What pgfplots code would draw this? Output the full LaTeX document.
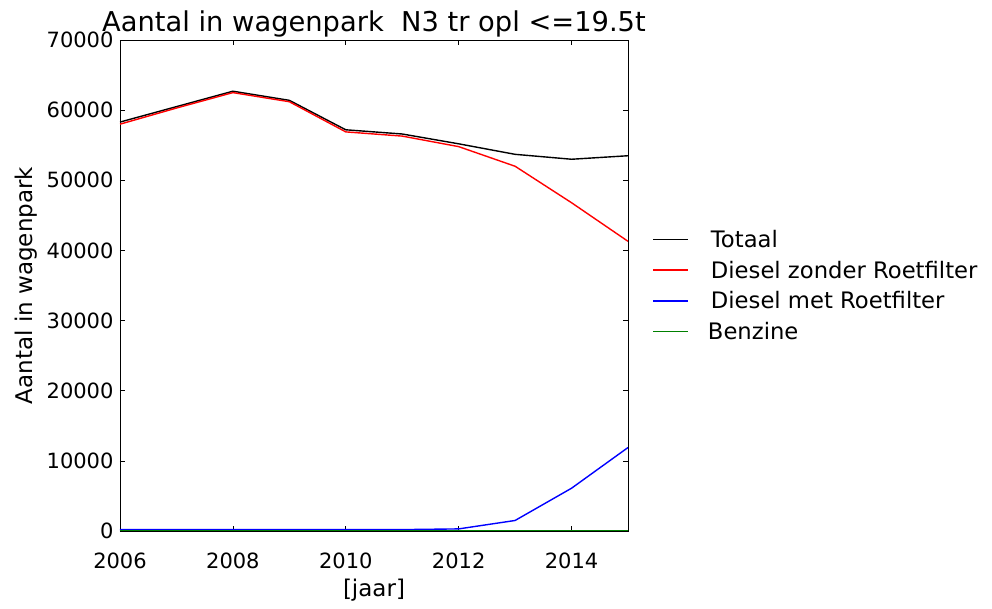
\documentclass[border=0pt]{standalone}
\usepackage{pgfplots}
\pgfplotsset{compat=1.18}
\usepackage{fontspec}
\setmainfont{DejaVu Sans}
\definecolor{mplgreen}{rgb}{0,0.5,0}
\begin{document}
\begin{tikzpicture}
\begin{axis}[
  name=ax,
  scale only axis,
  width=508pt, height=491pt,
  xmin=2006, xmax=2015, ymin=0, ymax=70000,
  xtick={2006,2008,2010,2012,2014},
  ytick={0,10000,20000,30000,40000,50000,60000,70000},
  scaled y ticks=false,
  /pgf/number format/1000 sep={},
  /pgf/number format/assume math mode=true,
  tick align=inside,
  tick pos=both,
  major tick length=5pt,
  tick style={black, line width=0.6pt},
  axis line style={black, line width=0.8pt},
  ticklabel style={font=\fontsize{21}{24}\selectfont},
  xticklabel style={yshift=-18pt},
  yticklabel style={xshift=-3pt},
  title={Aantal in wagenpark\ \ N3 tr opl <=19.5t},
  title style={font=\fontsize{27.3}{30}\selectfont, yshift=-7pt},
  xlabel={[jaar]},
  ylabel={Aantal in wagenpark},
  label style={font=\fontsize{23}{26}\selectfont},
  xlabel style={yshift=-4pt},
  ylabel style={yshift=3pt},
  legend style={draw=none, fill=none, at={(1.042,0.5)}, anchor=west,
    font=\fontsize{22.7}{26}\selectfont, row sep=8pt,
    legend cell align=left},
  legend image code/.code={\draw[#1, line width=1.4pt] (0pt,0pt) -- (35pt,0pt);},
]
\addplot[black, line width=1.4pt] coordinates {(2006,58300)(2007,60500)(2008,62700)(2009,61400)(2010,57200)(2011,56600)(2012,55200)(2013,53700)(2014,53000)(2015,53500)};
\addlegendentry{\hspace{20pt}Totaal}
\addplot[red, line width=1.4pt] coordinates {(2006,58000)(2007,60300)(2008,62500)(2009,61200)(2010,56900)(2011,56300)(2012,54800)(2013,52000)(2014,46800)(2015,41300)};
\addlegendentry{\hspace{20pt}Diesel zonder Roetfilter}
\addplot[blue, line width=1.4pt] coordinates {(2006,200)(2007,200)(2008,200)(2009,200)(2010,200)(2011,200)(2012,300)(2013,1500)(2014,6100)(2015,11900)};
\addlegendentry{\hspace{20pt}Diesel met Roetfilter}
\addplot[mplgreen, line width=1.4pt] coordinates {(2006,30)(2007,30)(2008,30)(2009,30)(2010,30)(2011,30)(2012,30)(2013,30)(2014,30)(2015,30)};
\addlegendentry{\hspace{17pt}Benzine}
\end{axis}
\path (ax.south west) ++(-120pt,-77pt) rectangle ++(992pt,608pt);
\end{tikzpicture}
\end{document}
